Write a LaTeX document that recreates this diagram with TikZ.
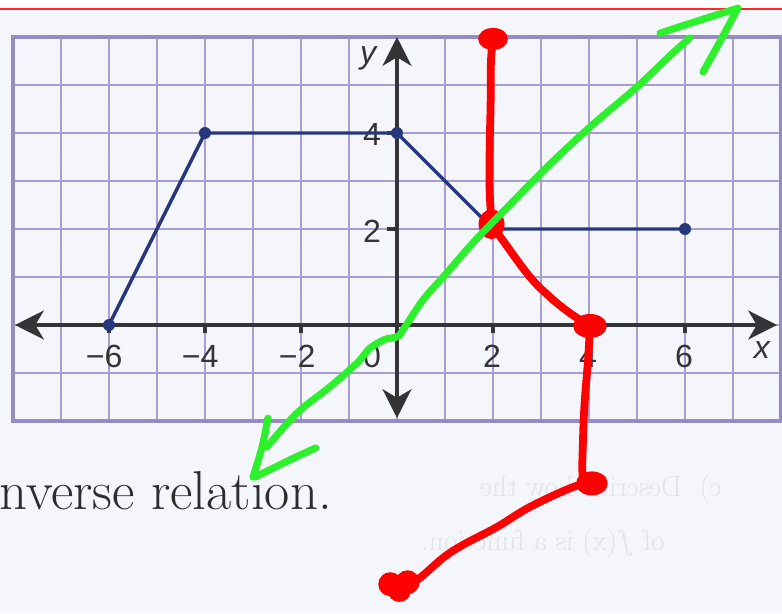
\documentclass[tikz,border=0pt]{standalone}
\usepackage{fontspec}
\newfontfamily\labelfont{Liberation Sans}
\usetikzlibrary{arrows.meta}
\definecolor{pagebg}{RGB}{244,246,251}
\definecolor{gridc}{RGB}{168,158,206}
\definecolor{borderc}{RGB}{150,140,196}
\definecolor{axisc}{RGB}{52,52,54}
\definecolor{fblue}{RGB}{38,55,125}
\definecolor{penred}{RGB}{255,0,0}
\definecolor{pengreen}{RGB}{45,240,45}
\definecolor{fainttxt}{RGB}{224,227,236}
\definecolor{textc}{RGB}{45,45,45}
\begin{document}
\begin{tikzpicture}[x=1cm,y=1cm,
  axisline/.style={line width=2.6pt, draw=axisc,
    {Stealth[length=17pt,width=17pt,inset=5pt]}-{Stealth[length=17pt,width=17pt,inset=5pt]}},
  tickmark/.style={line width=1.8pt, draw=axisc},
  ticklabel/.style={font=\labelfont\fontsize{19}{22}\selectfont, text=axisc, inner sep=0pt, anchor=base},
  fdot/.style={circle, fill=fblue, minimum size=0.25cm, inner sep=0pt},
  fline/.style={draw=fblue, line width=2pt, line join=round},
  redpen/.style={draw=penred, line width=4.6pt, line cap=round, line join=round},
  greenpen/.style={draw=pengreen, line width=4.2pt, line cap=round, line join=round},
  faintline/.style={font=\fontsize{17.3}{20}\selectfont, text=fainttxt, inner sep=0pt, anchor=base east}
]
\useasboundingbox (-8.2708,-6) rectangle (8.0208,6.7708);
\fill[pagebg] (-8.2708,-6) rectangle (8.0208,6.5833);
\fill[white] (-8.2708,6.5833) rectangle (8.0208,6.7708);
\draw[penred!85, line width=1.1pt] (-8.2708,6.5833) -- (8.0208,6.5833);

% faint show-through text (mirrored)
\node[faintline] (f1) at (6.77,-3.58) {\scalebox{-1}[1]{c)\ \ Describe how the}};
\node[faintline] (f2) at (5.58,-4.69) {\scalebox{-1}[1]{of $f$(x) is a function.}};

% grid
\draw[gridc, line width=1.1pt] (-8,-2) grid (8,6);
\draw[borderc, line width=2.8pt] (-8,-2) rectangle (8,6);

% axes
\coordinate (xl) at (-7.958,0);
\coordinate (xr) at (7.917,0);
\coordinate (yb) at (0,-1.9375);
\coordinate (yt) at (0,6.0);
\draw[axisline] (xl) -- (xr);
\draw[axisline] (yb) -- (yt);
\foreach \t in {-6,-4,-2,2,4,6} \draw[tickmark] (\t,0) -- (\t,-0.16);
\foreach \t in {2,4} \draw[tickmark] (0,\t) -- (-0.2,\t);

\node[ticklabel] (lm6) at (-6.1,-0.875) {−6};
\node[ticklabel] (lm4) at (-4.1,-0.875) {−4};
\node[ticklabel] (lm2) at (-2.08,-0.875) {−2};
\node[ticklabel] (l0) at (-0.52,-0.875) {0};
\node[ticklabel] (l2) at (1.98,-0.875) {2};
\node[ticklabel] (l4) at (3.98,-0.875) {4};
\node[ticklabel] (l6) at (5.98,-0.875) {6};
\node[ticklabel] (lx) at (7.6,-0.69) {\itshape x};
\node[ticklabel] (ly4) at (-0.52,3.75) {4};
\node[ticklabel] (ly2) at (-0.52,1.71) {2};
\node[ticklabel] (ly) at (-0.6,5.45) {\itshape y};

% function f
\node[fdot] (p1) at (-6,0) {};
\node[fdot] (p2) at (-4,4) {};
\node[fdot] (p3) at (0,4) {};
\coordinate (p4) at (2,2);
\node[fdot] (p5) at (6,2) {};
\draw[fline] (p1.center) -- (p2.center) -- (p3.center) -- (p4) -- (p5.center);

% caption text
\node[font=\fontsize{32.5}{36}\selectfont, text=textc, inner sep=0pt, anchor=base west] (cap) at (-8.29,-3.854) {nverse relation.};

% red hand-drawn inverse
\coordinate (r1) at (2.0,5.96);
\coordinate (r2) at (1.97,2.1);
\coordinate (r3) at (4.02,-0.02);
\coordinate (r4) at (4.06,-3.3);
\coordinate (r5) at (0.06,-5.44);
\draw[redpen] plot[smooth, tension=0.6] coordinates {(r1) (1.958,5.5) (1.95,4.6) (1.93,3.65) (1.93,2.8) (r2)};
\draw[redpen] plot[smooth, tension=0.6] coordinates {(r2) (2.25,1.7) (2.77,1.0) (3.19,0.58) (3.6,0.25) (r3)};
\draw[redpen] plot[smooth, tension=0.6] coordinates {(r3) (3.98,-0.73) (3.91,-1.6) (3.875,-2.4) (3.875,-3.2) (r4)};
\draw[redpen] plot[smooth, tension=0.6] coordinates {(r4) (3.67,-3.375) (2.77,-3.79) (2.08,-4.21) (1.375,-4.58) (0.96,-4.85) (0.42,-5.31) (r5)};
\fill[penred] (r1) ellipse [x radius=0.31, y radius=0.23];
\fill[penred] (r2) ellipse [x radius=0.27, y radius=0.31];
\fill[penred] (r3) ellipse [x radius=0.35, y radius=0.25];
\fill[penred] (r4) ellipse [x radius=0.33, y radius=0.25];
\fill[penred] (-0.14,-5.4) circle (0.25);
\fill[penred] (0.22,-5.36) circle (0.25);
\fill[penred] (0.05,-5.53) circle (0.24);

% green y = x line
\draw[greenpen] plot[smooth, tension=0.5] coordinates {(-2.71,-2.54) (-2.08,-1.83) (-1.4,-1.29) (-0.83,-0.79) (-0.56,-0.48) (-0.25,-0.3) (0.02,-0.24) (0.14,-0.08) (0.54,0.52) (1.05,1.1) (1.58,1.71) (2.15,2.3) (3.125,3.29) (4.02,4.125) (5.0,4.96) (5.75,5.67) (6.1,5.98)};
\draw[greenpen] plot[smooth, tension=0.5] coordinates {(5.48,6.08) (6.31,6.35) (7.1,6.6)};
\draw[greenpen] plot[smooth, tension=0.5] coordinates {(7.1,6.6) (6.77,5.98) (6.375,5.27)};
\draw[greenpen] plot[smooth, tension=0.5] coordinates {(-2.69,-1.94) (-2.81,-2.54) (-3.0,-3.17)};
\draw[greenpen] plot[smooth, tension=0.5] coordinates {(-1.69,-2.56) (-2.23,-2.81) (-2.96,-3.17)};
\end{tikzpicture}
\end{document}
